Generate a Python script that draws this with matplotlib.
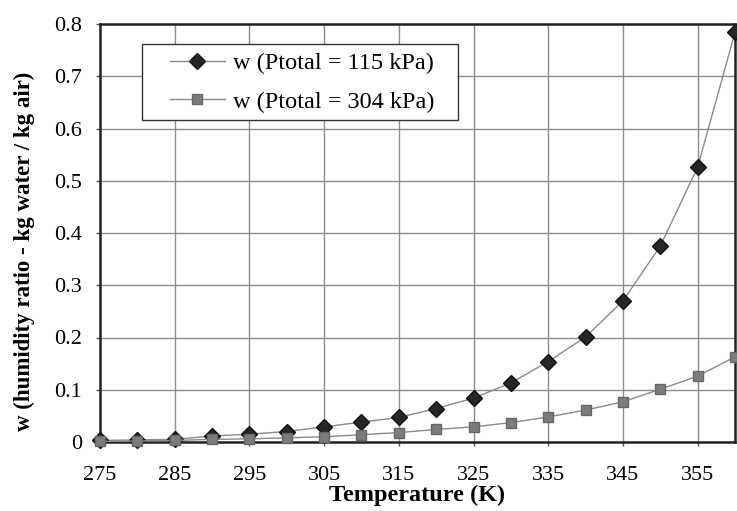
import matplotlib
matplotlib.use("Agg")
import matplotlib.pyplot as plt
from matplotlib.ticker import FuncFormatter
from matplotlib.patches import Rectangle

temps = [275, 280, 285, 290, 295, 300, 305, 310, 315, 320, 325, 330, 335, 340, 345, 350, 355, 360]
w_115 = [0.003, 0.004, 0.005, 0.0115, 0.015, 0.020, 0.029, 0.038, 0.047, 0.064, 0.084, 0.113, 0.154, 0.201, 0.270, 0.375, 0.526, 0.784]
w_304 = [0.001, 0.002, 0.003, 0.005, 0.006, 0.008, 0.010, 0.014, 0.018, 0.024, 0.029, 0.037, 0.048, 0.061, 0.077, 0.101, 0.126, 0.163]
label_115 = "w (Ptotal = 115 kPa)"
label_304 = "w (Ptotal = 304 kPa)"
xticks = [275, 285, 295, 305, 315, 325, 335, 345, 355]
yticks = [0, 0.1, 0.2, 0.3, 0.4, 0.5, 0.6, 0.7, 0.8]

plt.rcParams['font.family'] = ['Liberation Serif', 'DejaVu Serif']

W, H = 737, 511
fig = plt.figure(figsize=(W / 100, H / 100), dpi=100)
ax = fig.add_axes([100/W, 1-442/H, 635/W, (442-24)/H])

ax.plot(temps, w_115, color='#8a8a8a', lw=1.0, marker='D', markersize=8,
        markerfacecolor='#262626', markeredgecolor='#111111', label=label_115,
        zorder=3, clip_on=False)
ax.plot(temps, w_304, color='#8a8a8a', lw=1.0, marker='s', markersize=7.5,
        markerfacecolor='#7c7c7c', markeredgecolor='#666666', label=label_304,
        zorder=4, clip_on=False)

ax.set_xlim(275, 360)
ax.set_ylim(0, 0.8)
ax.set_xticks(xticks)
ax.set_yticks(yticks)
ax.yaxis.set_major_formatter(FuncFormatter(lambda v, p: "0" if v == 0 else f"{v:.1f}"))
ax.grid(True, color='#8c8c8c', lw=1.0)
ax.set_axisbelow(True)
for s in ax.spines.values():
    s.set_linewidth(1.8)
    s.set_color('#222222')
ax.tick_params(axis='both', labelsize=16, length=3, width=1, color='#555555', direction='out')
ax.tick_params(axis='x', pad=14)
ax.tick_params(axis='y', pad=10)
ax.set_xlabel("Temperature (K)", fontsize=17.5, fontweight='bold', labelpad=0)
ax.set_ylabel("w (humidity ratio - kg water / kg air)", fontsize=16.5, fontweight='bold')
ax.yaxis.set_label_coords(-0.102, 0.457)

# legend frame
frame = Rectangle((142/W, 1-120/H), (458-142)/W, (120-44)/H, transform=fig.transFigure,
                  facecolor='white', edgecolor='#333333', lw=1.0, zorder=5, clip_on=False)
ax.add_patch(frame)

leg = ax.legend(loc='upper left', bbox_to_anchor=((170-100)/635, 1 - (52-24)/418), fontsize=17.5,
                frameon=False, handlelength=2.26, handletextpad=0.33, borderpad=0,
                labelspacing=0.69, borderaxespad=0)
leg.set_zorder(6)

fig.savefig("out.png", dpi=100)
